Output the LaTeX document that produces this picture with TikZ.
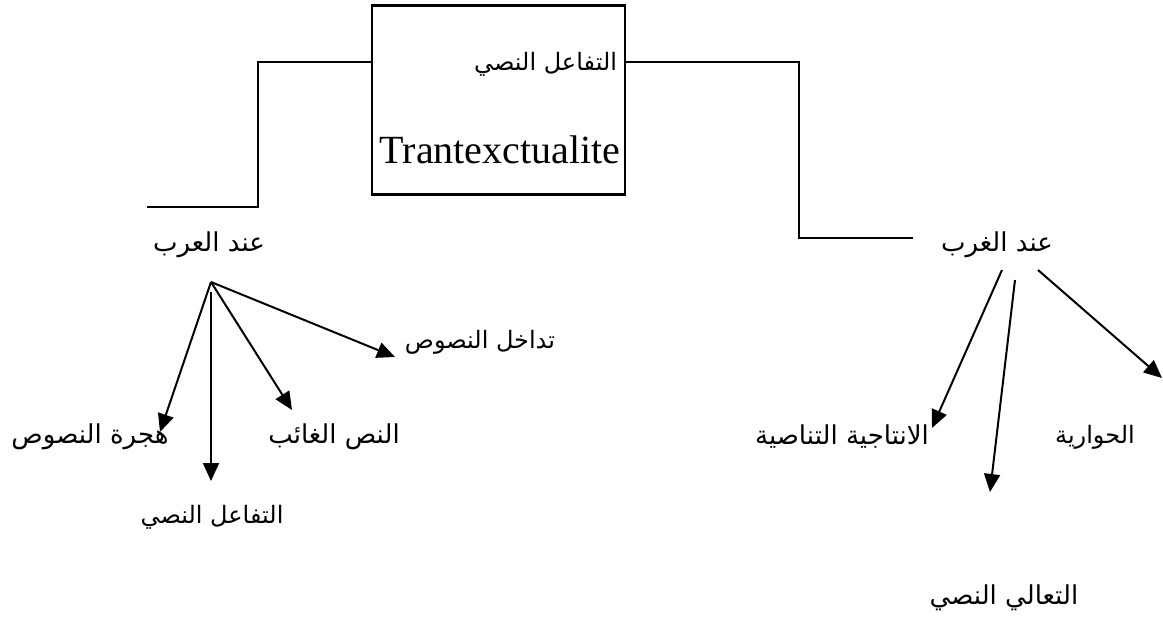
\documentclass[tikz,border=0pt]{standalone}
\usepackage{fontspec}
\setmainfont{Liberation Serif}
\newfontfamily\arabicfont[Script=Arabic]{DejaVu Sans}
\TeXXeTstate=1
\usetikzlibrary{arrows.meta}
\newcommand{\artxt}[1]{{\arabicfont\beginR #1\endR}}

\begin{document}
\begin{tikzpicture}[x=1pt, y=-1pt, line width=2pt, line join=miter,
	>={Triangle[length=18pt,width=16pt]},
	lbl/.style={font=\fontsize{26}{30}\selectfont, inner sep=0pt},
	lblsmall/.style={font=\fontsize{24}{28}\selectfont, inner sep=0pt}]
	\useasboundingbox (0,0) rectangle (1163,634);
	% main box
	\node[draw, line width=2.2pt, minimum width=253pt, minimum height=189pt, inner sep=0pt] (box) at (498.5,100) {};
	\node[lblsmall, anchor=east] (boxtitle) at (618,64) {\artxt{التفاعل النصي}};
	\node[font=\fontsize{40}{44}\selectfont, inner sep=0pt] (latin) at (500,150) {Trantexctualite};
	% the two branches
	\node[lbl] (arab) at (209,245) {\artxt{عند العرب}};
	\node[lbl] (gharb) at (997,245) {\artxt{عند الغرب}};
	\coordinate (arabEnd) at (147,207);
	\coordinate (gharbEnd) at (913,238);
	\draw ([yshift=38pt]box.west) -| (258,207) -- (arabEnd);
	\draw ([yshift=38pt]box.east) -| (799,238) -- (gharbEnd);
	% arab side
	\node[lblsmall] (tadakhul) at (480,342) {\artxt{تداخل النصوص}};
	\node[lbl] (ghaib) at (334,437) {\artxt{النص الغائب}};
	\node[lbl] (hijra) at (90,437) {\artxt{هجرة النصوص}};
	\node[lblsmall] (tafaul) at (212,517) {\artxt{التفاعل النصي}};
	\coordinate (arabHub) at (211,282);
	\coordinate (arabTop) at (211,292);
	\coordinate (tipHijra) at (160,432);
	\coordinate (tipTafaul) at (211,481);
	\coordinate (tipGhaib) at (292,410);
	\coordinate (tipTadakhul) at (395,357);
	\draw[->] (arabHub) -- (tipHijra);
	\draw[->] (arabTop) -- (tipTafaul);
	\draw[->] (arabHub) -- (tipGhaib);
	\draw[->] (arabHub) -- (tipTadakhul);
	% gharb side
	\node[lbl] (intaj) at (842,437) {\artxt{الانتاجية التناصية}};
	\node[lblsmall] (hiwar) at (1095,437) {\artxt{الحوارية}};
	\node[lbl] (taali) at (1004,598) {\artxt{التعالي النصي}};
	\coordinate (gharbA) at (1002,270);
	\coordinate (gharbB) at (1015,280);
	\coordinate (gharbC) at (1038,270);
	\coordinate (tipIntaj) at (932,428);
	\coordinate (tipTaali) at (990,492);
	\coordinate (tipHiwar) at (1162,378);
	\draw[->] (gharbA) -- (tipIntaj);
	\draw[->] (gharbB) -- (tipTaali);
	\draw[->] (gharbC) -- (tipHiwar);
\end{tikzpicture}
\end{document}
